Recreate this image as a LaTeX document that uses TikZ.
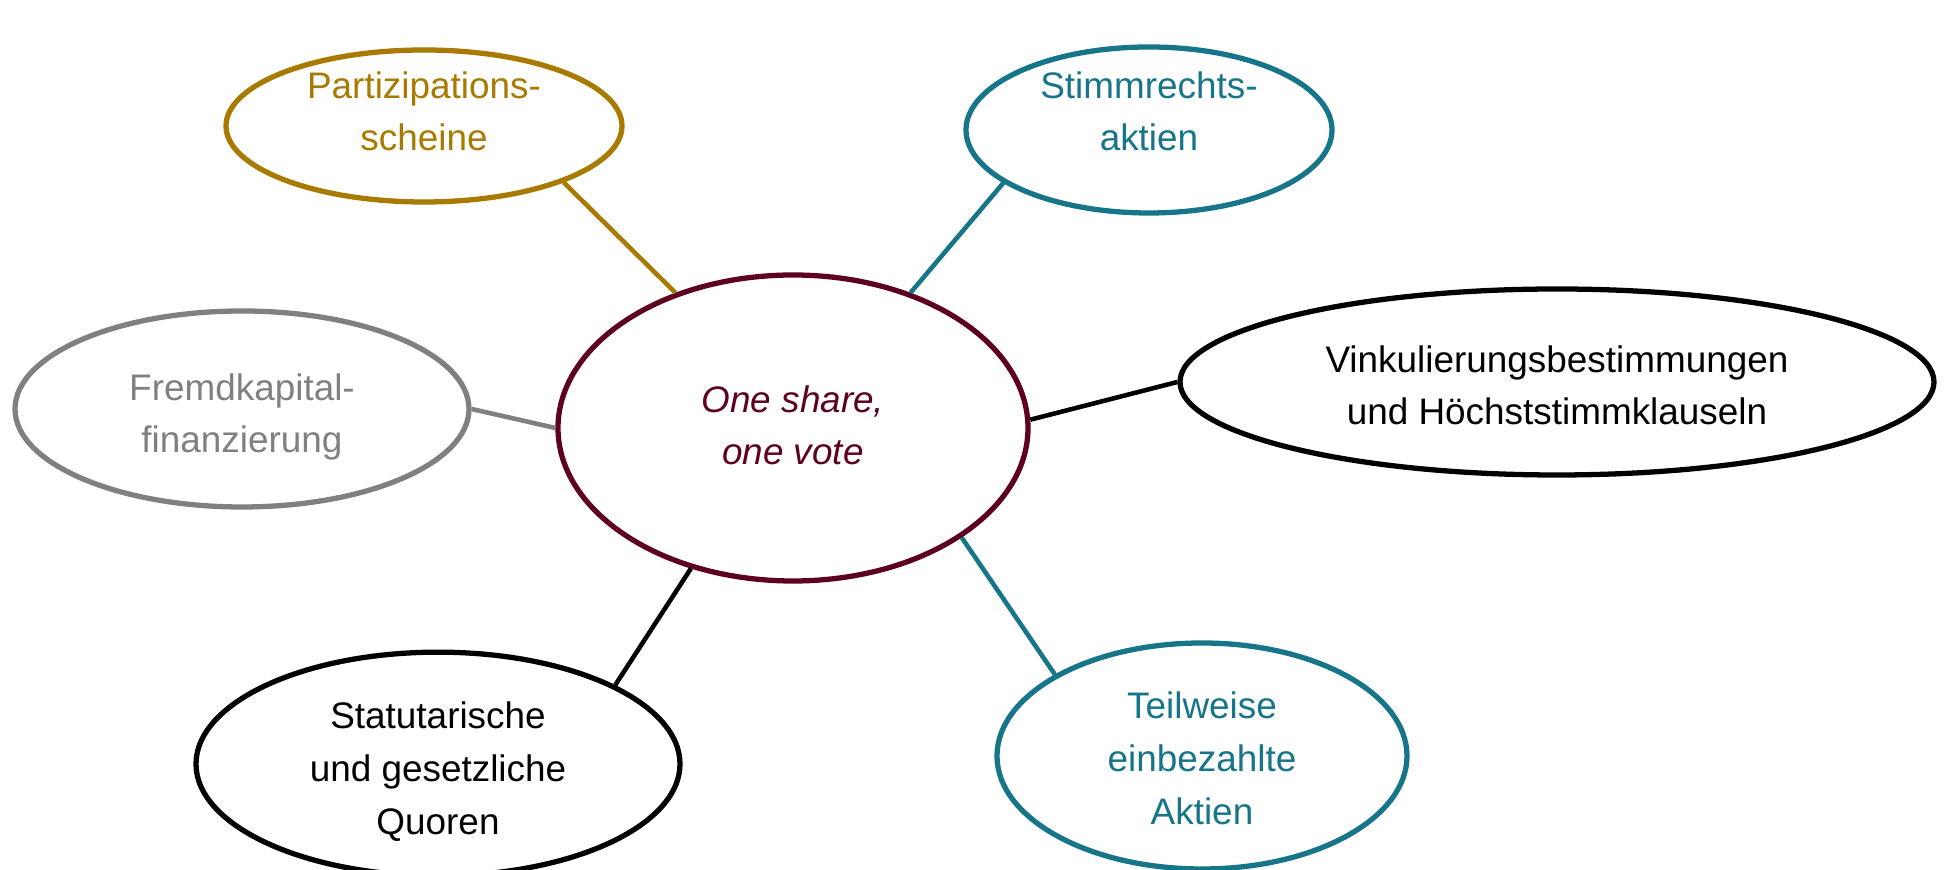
\documentclass[tikz,border=0pt]{standalone}
\usepackage{fontspec}
\setmainfont{Liberation Sans}
\definecolor{GoldBrown}{HTML}{A87A00}
\definecolor{PetrolBlue}{HTML}{17758A}
\definecolor{DarkMaroon}{HTML}{5E0020}
\definecolor{MidGray}{HTML}{808080}
\usetikzlibrary{shapes.geometric}
% text block, lifted inside its ellipse by #1
\newcommand\topictext[2]{\raisebox{#1}[\height][\depth]{\begin{tabular}{@{}c@{}}#2\end{tabular}}}

\begin{document}
\begin{tikzpicture}[
      topic/.style={ellipse, draw, line width=1.5pt, inner sep=0pt,
                    font=\fontsize{10.5}{15}\selectfont},
      spoke/.style={line width=1.3pt}]

      \useasboundingbox (0,0) rectangle (19.47,-8.70);

      \node[topic, draw=DarkMaroon, text=DarkMaroon,
            font=\fontsize{10.5}{15}\selectfont\itshape,
            minimum width=4.70cm, minimum height=3.06cm] (c) at (7.93,-4.28)
            {\topictext{0cm}{One share,\\one vote}};

      \node[topic, draw=GoldBrown, text=GoldBrown,
            minimum width=3.96cm, minimum height=1.52cm]  (part)  at (4.24,-1.26)
            {\topictext{0.12cm}{Partizipations-\\scheine}};
      \node[topic, draw=PetrolBlue, text=PetrolBlue,
            minimum width=3.66cm, minimum height=1.66cm]  (stimm) at (11.49,-1.30)
            {\topictext{0.16cm}{Stimmrechts-\\aktien}};
      \node[topic, draw=black,
            minimum width=7.54cm, minimum height=1.86cm]  (vink)  at (15.57,-3.82)
            {\topictext{-0.06cm}{Vinkulierungsbestimmungen\\und Höchststimmklauseln}};
      \node[topic, draw=MidGray, text=MidGray,
            minimum width=4.54cm, minimum height=1.96cm]  (fremd) at (2.42,-4.09)
            {\topictext{-0.07cm}{Fremdkapital-\\finanzierung}};
      \node[topic, draw=black,
            minimum width=4.84cm, minimum height=2.12cm]  (quor)  at (4.38,-7.64)
            {\topictext{-0.07cm}{Statutarische\\und gesetzliche\\Quoren}};
      \node[topic, draw=PetrolBlue, text=PetrolBlue,
            minimum width=4.10cm, minimum height=2.26cm]  (teil)  at (12.02,-7.56)
            {\topictext{-0.05cm}{Teilweise\\einbezahlte\\Aktien}};

      \foreach \from/\dest/\to/\col in {131/part/338/GoldBrown, 49/stimm/200/PetrolBlue,
                                        2/vink/180/black, 180/fremd/0/MidGray,
                                        234/quor/24/black, 327/teil/151/PetrolBlue}
        \draw[spoke, \col] (c.\from) -- (\dest.\to);
    \end{tikzpicture}
\end{document}
